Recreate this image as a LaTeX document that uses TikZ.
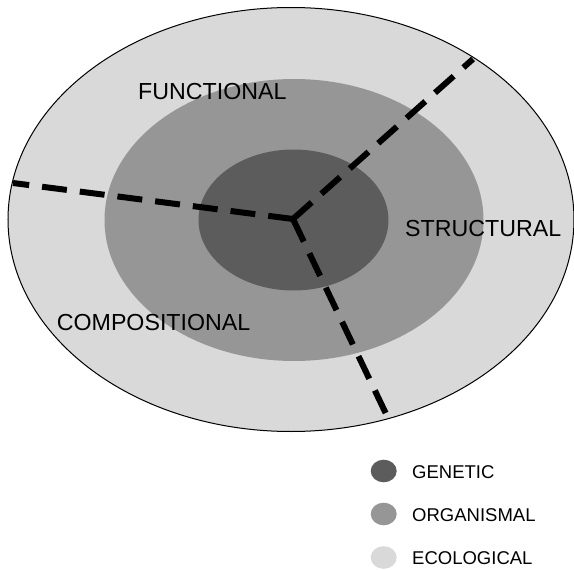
\documentclass[tikz,border=0pt]{standalone}
\usepackage{fontspec}
\setmainfont{Liberation Sans}
\definecolor{genetic}{HTML}{5C5C5C}
\definecolor{organismal}{HTML}{969696}
\definecolor{ecological}{HTML}{D9D9D9}
\usetikzlibrary{positioning}

\begin{document}
\begin{tikzpicture}[x=1pt,y=-1pt,
    divider/.style={line width=6pt,dash pattern=on 25pt off 13pt},
    ringlabel/.style={anchor=base west,inner sep=0pt,font=\fontsize{23.2}{27}\selectfont},
    keylabel/.style={anchor=base west,inner sep=0pt,font=\fontsize{18.5}{22}\selectfont}]
            \useasboundingbox[fill=white] (0,0) rectangle (574,570);
            \fill[ecological] (291,219.5) ellipse [x radius=283pt, y radius=212pt];
            \fill[organismal] (294,220) ellipse [x radius=189.5pt, y radius=141pt];
            \fill[genetic] (293.5,220) ellipse [x radius=95pt, y radius=70.5pt];
            \draw[line width=1pt] (291,219.5) ellipse [x radius=283pt, y radius=212pt];

            \coordinate (hub) at (293,219);
            \coordinate (endfunc) at (13,183);
            \coordinate (endstruct) at (473,59);
            \coordinate (endcomp) at (388,418);
            \draw[divider] (hub)--(endfunc);
            \draw[divider] (hub)--(endstruct);
            \draw[divider] (hub)--(endcomp);

            \node[ringlabel] (functional) at (138,99.3) {FUNCTIONAL};
            \node[ringlabel] (structural) at (405,236.7) {STRUCTURAL};
            \node[ringlabel] (compositional) at (56.7,330) {COMPOSITIONAL};

            \fill[genetic] (383.7,471) ellipse [x radius=13pt, y radius=11.3pt];
            \fill[organismal] (383.7,514) ellipse [x radius=13pt, y radius=11.3pt];
            \fill[ecological] (383.7,557.5) ellipse [x radius=13pt, y radius=11.3pt];
            \node[keylabel] (genetickey) at (412,478.3) {GENETIC};
            \node[keylabel] (organismalkey) at (412,521.7) {ORGANISMAL};
            \node[keylabel] (ecologicalkey) at (412,564) {ECOLOGICAL};
\end{tikzpicture}
\end{document}
